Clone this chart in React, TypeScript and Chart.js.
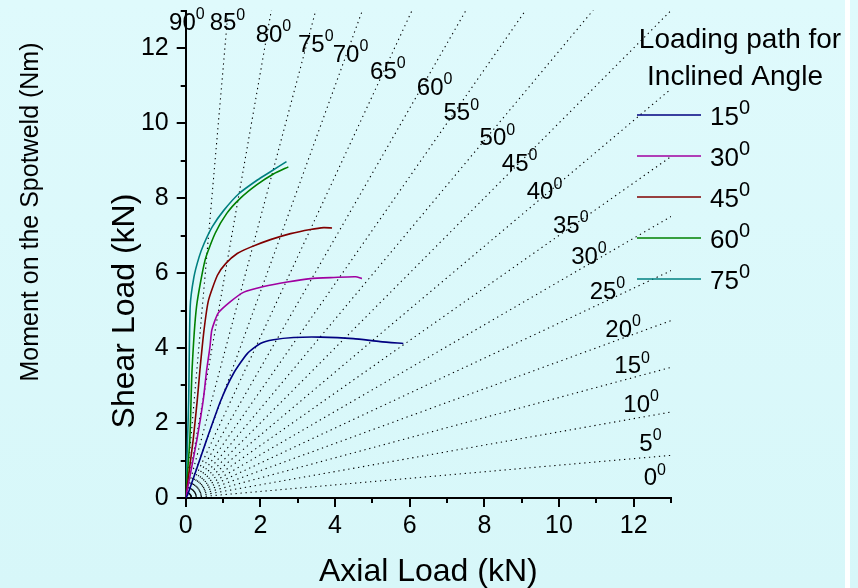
import React, { useEffect, useRef } from 'react';
import { Chart, registerables } from 'chart.js';

Chart.register(...registerables);

const FONT = '"Liberation Sans", Arial, Helvetica, sans-serif';

// ---- data ----
const seriesLabels = ['15', '30', '45', '60', '75'];
const seriesColors = ['#000080', '#A000A0', '#800000', '#008000', '#008080'];

const x15 = [0, 0.05, 0.56, 0.94, 1.28, 1.65, 2.0, 2.35, 2.89, 3.61, 4.49, 5.21, 5.83];
const y15 = [0, 0.08, 1.55, 2.6, 3.32, 3.85, 4.12, 4.22, 4.28, 4.29, 4.25, 4.17, 4.12];

const x30 = [0, 0.3, 0.47, 0.56, 0.65, 0.7, 0.87, 1.19, 1.56, 2.09, 2.72, 3.34, 3.97, 4.55, 4.72];
const y30 = [0, 1.55, 2.61, 3.4, 4.03, 4.48, 4.93, 5.23, 5.49, 5.64, 5.76, 5.85, 5.88, 5.9, 5.85];

const x45 = [0, 0.2, 0.31, 0.38, 0.49, 0.61, 0.85, 1.07, 1.38, 1.74, 2.27, 2.81, 3.34, 3.7, 3.92];
const y45 = [0, 1.55, 2.61, 3.4, 4.47, 5.27, 5.94, 6.25, 6.52, 6.69, 6.89, 7.05, 7.16, 7.21, 7.2];

const x60 = [0, 0.11, 0.17, 0.29, 0.52, 0.79, 1.1, 1.46, 1.9, 2.35, 2.75];
const y60 = [0, 1.55, 3.41, 5.1, 6.35, 7.06, 7.59, 7.99, 8.35, 8.64, 8.83];

const x75 = [0, 0.05, 0.08, 0.12, 0.22, 0.36, 0.49, 0.71, 1.02, 1.43, 1.92, 2.27, 2.7];
const y75 = [0, 1.55, 2.61, 5.1, 5.89, 6.43, 6.78, 7.23, 7.67, 8.12, 8.48, 8.7, 8.97];

const seriesX = [x15, x30, x45, x60, x75];
const seriesY = [y15, y30, y45, y60, y75];

// radial guide lines (degrees) and where their labels sit (polar, data units)
const guideAngles = [0, 5, 10, 15, 20, 25, 30, 35, 40, 45, 50, 55, 60, 65, 70, 75, 80, 85, 90];
const guideLabelAngle = [2.6, 6.9, 11.8, 16.7, 21.3, 26.4, 31.2, 35.6, 40.8, 45.4, 49.5, 54.8, 59.2, 65.1, 70.1, 74.5, 79.8, 85.5, 90.4];
const guideLabelRadius = [12.46, 12.42, 12.34, 12.36, 12.45, 12.48, 12.49, 12.54, 12.54, 12.57, 12.67, 12.6, 12.79, 12.58, 12.62, 12.59, 12.6, 12.74, 12.72];
const guideLength = 40;

const axisMin = 0;
const axisMax = 13;
const tickValues = [0, 1, 2, 3, 4, 5, 6, 7, 8, 9, 10, 11, 12, 13];

const xTitle = 'Axial Load (kN)';
const yTitle = 'Shear Load (kN)';
const y2Title = 'Moment on the Spotweld (Nm)';
const legendTitle = ['Loading path for', 'Inclined Angle'];

const rad = (d: number) => (d * Math.PI) / 180;

function drawDeg(ctx: CanvasRenderingContext2D, text: string, x: number, cy: number, size: number, supSize: number, raise: number, align: 'left' | 'center') {
  ctx.font = `${size}px ${FONT}`;
  ctx.textBaseline = 'alphabetic';
  ctx.textAlign = 'left';
  const w = ctx.measureText(text).width;
  const left = align === 'center' ? x - w / 2 : x;
  const base = cy + 0.358 * size;
  ctx.fillText(text, left, base);
  const supTop = cy - 0.358 * size - raise;
  ctx.font = `${supSize}px ${FONT}`;
  ctx.fillText('0', left + w, supTop + 0.716 * supSize);
}

const bgPlugin = {
  id: 'bgPlugin',
  beforeDraw(chart: any) {
    const { ctx, width, height } = chart;
    ctx.save();
    const g = ctx.createLinearGradient(0, 0, 0, height);
    g.addColorStop(0, '#DFFAFC');
    g.addColorStop(1, '#D7F7F9');
    ctx.fillStyle = g;
    ctx.fillRect(0, 0, width, height);
    ctx.fillStyle = '#FFFFFF';
    ctx.fillRect(845, 0, 5, height);
    ctx.restore();
  },
};

const decorPlugin = {
  id: 'decorPlugin',
  afterDatasetsDraw(chart: any) {
    const { ctx, chartArea: ca } = chart;
    const xs = chart.scales.x;
    const ys = chart.scales.y;
    ctx.save();
    ctx.fillStyle = '#000';
    // angle labels
    guideAngles.forEach((a, i) => {
      const r = guideLabelRadius[i];
      const phi = rad(guideLabelAngle[i]);
      const px = xs.getPixelForValue(r * Math.cos(phi));
      const py = ys.getPixelForValue(r * Math.sin(phi));
      drawDeg(ctx, String(a), px, py, 24, 16, 5, 'center');
    });
    // legend
    ctx.font = `28px ${FONT}`;
    ctx.textAlign = 'center';
    ctx.textBaseline = 'alphabetic';
    ctx.fillText(legendTitle[0], 740, 48);
    ctx.fillText(legendTitle[1], 735, 85);
    seriesLabels.forEach((lab, i) => {
      const y = 115 + 41 * i;
      ctx.strokeStyle = seriesColors[i];
      ctx.lineWidth = 1.5;
      ctx.beginPath();
      ctx.moveTo(637, y);
      ctx.lineTo(701, y);
      ctx.stroke();
      ctx.fillStyle = '#000';
      drawDeg(ctx, lab, 710, y + 1, 26, 20, 6.7, 'left');
    });
    // tick marks
    ctx.strokeStyle = '#000';
    ctx.lineWidth = 2;
    tickValues.forEach((v) => {
      const len = v % 2 === 0 ? 9 : 5;
      const px = Math.round(xs.getPixelForValue(v));
      ctx.beginPath();
      ctx.moveTo(px, ca.bottom);
      ctx.lineTo(px, ca.bottom + len);
      ctx.stroke();
      const py = Math.round(ys.getPixelForValue(v));
      ctx.beginPath();
      ctx.moveTo(ca.left, py);
      ctx.lineTo(ca.left - len, py);
      ctx.stroke();
    });
    // vertical titles
    const vtext = (t: string, cx: number, cy: number, size: number) => {
      ctx.save();
      ctx.translate(cx, cy);
      ctx.rotate(-Math.PI / 2);
      ctx.font = `${size}px ${FONT}`;
      ctx.textAlign = 'center';
      ctx.textBaseline = 'middle';
      ctx.fillStyle = '#000';
      ctx.fillText(t, 0, 0);
      ctx.restore();
    };
    vtext(yTitle, ca.left - 61, 311, 32);
    vtext(y2Title, 31, 212, 25);
    ctx.restore();
  },
};

export default function App() {
  const ref = useRef<HTMLCanvasElement | null>(null);

  useEffect(() => {
    if (!ref.current) return;
    const curveSets = seriesX.map((xs, i) => ({
      label: seriesLabels[i],
      data: xs.map((x, j) => ({ x, y: seriesY[i][j] })),
      borderColor: seriesColors[i],
      backgroundColor: seriesColors[i],
      borderWidth: 1.6,
      pointRadius: 0,
      tension: 0.2,
      fill: false,
      order: 0,
    }));
    const guideSets = guideAngles.map((a) => ({
      label: 'g' + a,
      data: [
        { x: 0, y: 0 },
        { x: guideLength * Math.cos(rad(a)), y: guideLength * Math.sin(rad(a)) },
      ],
      borderColor: '#000000',
      borderWidth: 1.1,
      borderDash: [1.3, 3.7],
      pointRadius: 0,
      tension: 0,
      fill: false,
      order: 5,
    }));

    const chart = new Chart(ref.current, {
      type: 'line',
      data: { datasets: [...curveSets, ...guideSets] as any },
      options: {
        responsive: false,
        animation: false,
        devicePixelRatio: 1,
        events: [],
        layout: { padding: { left: 0, right: 187, top: 10.5, bottom: 0 } },
        plugins: { legend: { display: false }, tooltip: { enabled: false } },
        scales: {
          x: {
            type: 'linear',
            min: axisMin,
            max: axisMax,
            grid: { display: false, drawTicks: false },
            border: { display: true, color: '#000', width: 2 },
            ticks: {
              stepSize: 1,
              autoSkip: false,
              maxRotation: 0,
              padding: 13,
              color: '#000',
              font: { family: FONT, size: 25 },
              callback: (v: any) => (Number(v) % 2 === 0 ? String(v) : ''),
            },
            title: {
              display: true,
              text: xTitle,
              color: '#000',
              font: { family: FONT, size: 32, lineHeight: 1 },
              padding: { top: 0, bottom: 0 },
            },
            afterFit: (s: any) => {
              s.height = 90;
              s.paddingLeft = 0;
              s.paddingRight = 0;
            },
          },
          y: {
            type: 'linear',
            min: axisMin,
            max: axisMax,
            grid: { display: false, drawTicks: false },
            border: { display: true, color: '#000', width: 2 },
            ticks: {
              stepSize: 1,
              autoSkip: false,
              padding: 17,
              color: '#000',
              font: { family: FONT, size: 25 },
              callback: (v: any) => (Number(v) % 2 === 0 ? String(v) : ''),
            },
            afterFit: (s: any) => {
              s.width = 185.7;
              s.paddingTop = 0;
              s.paddingBottom = 0;
            },
          },
        },
      } as any,
      plugins: [bgPlugin, decorPlugin],
    });
    return () => chart.destroy();
  }, []);

  return (
    <div style={{ position: 'fixed', left: 0, top: 0, width: 858, height: 588 }}>
      <canvas ref={ref} width={858} height={588} style={{ display: 'block' }} />
    </div>
  );
}
